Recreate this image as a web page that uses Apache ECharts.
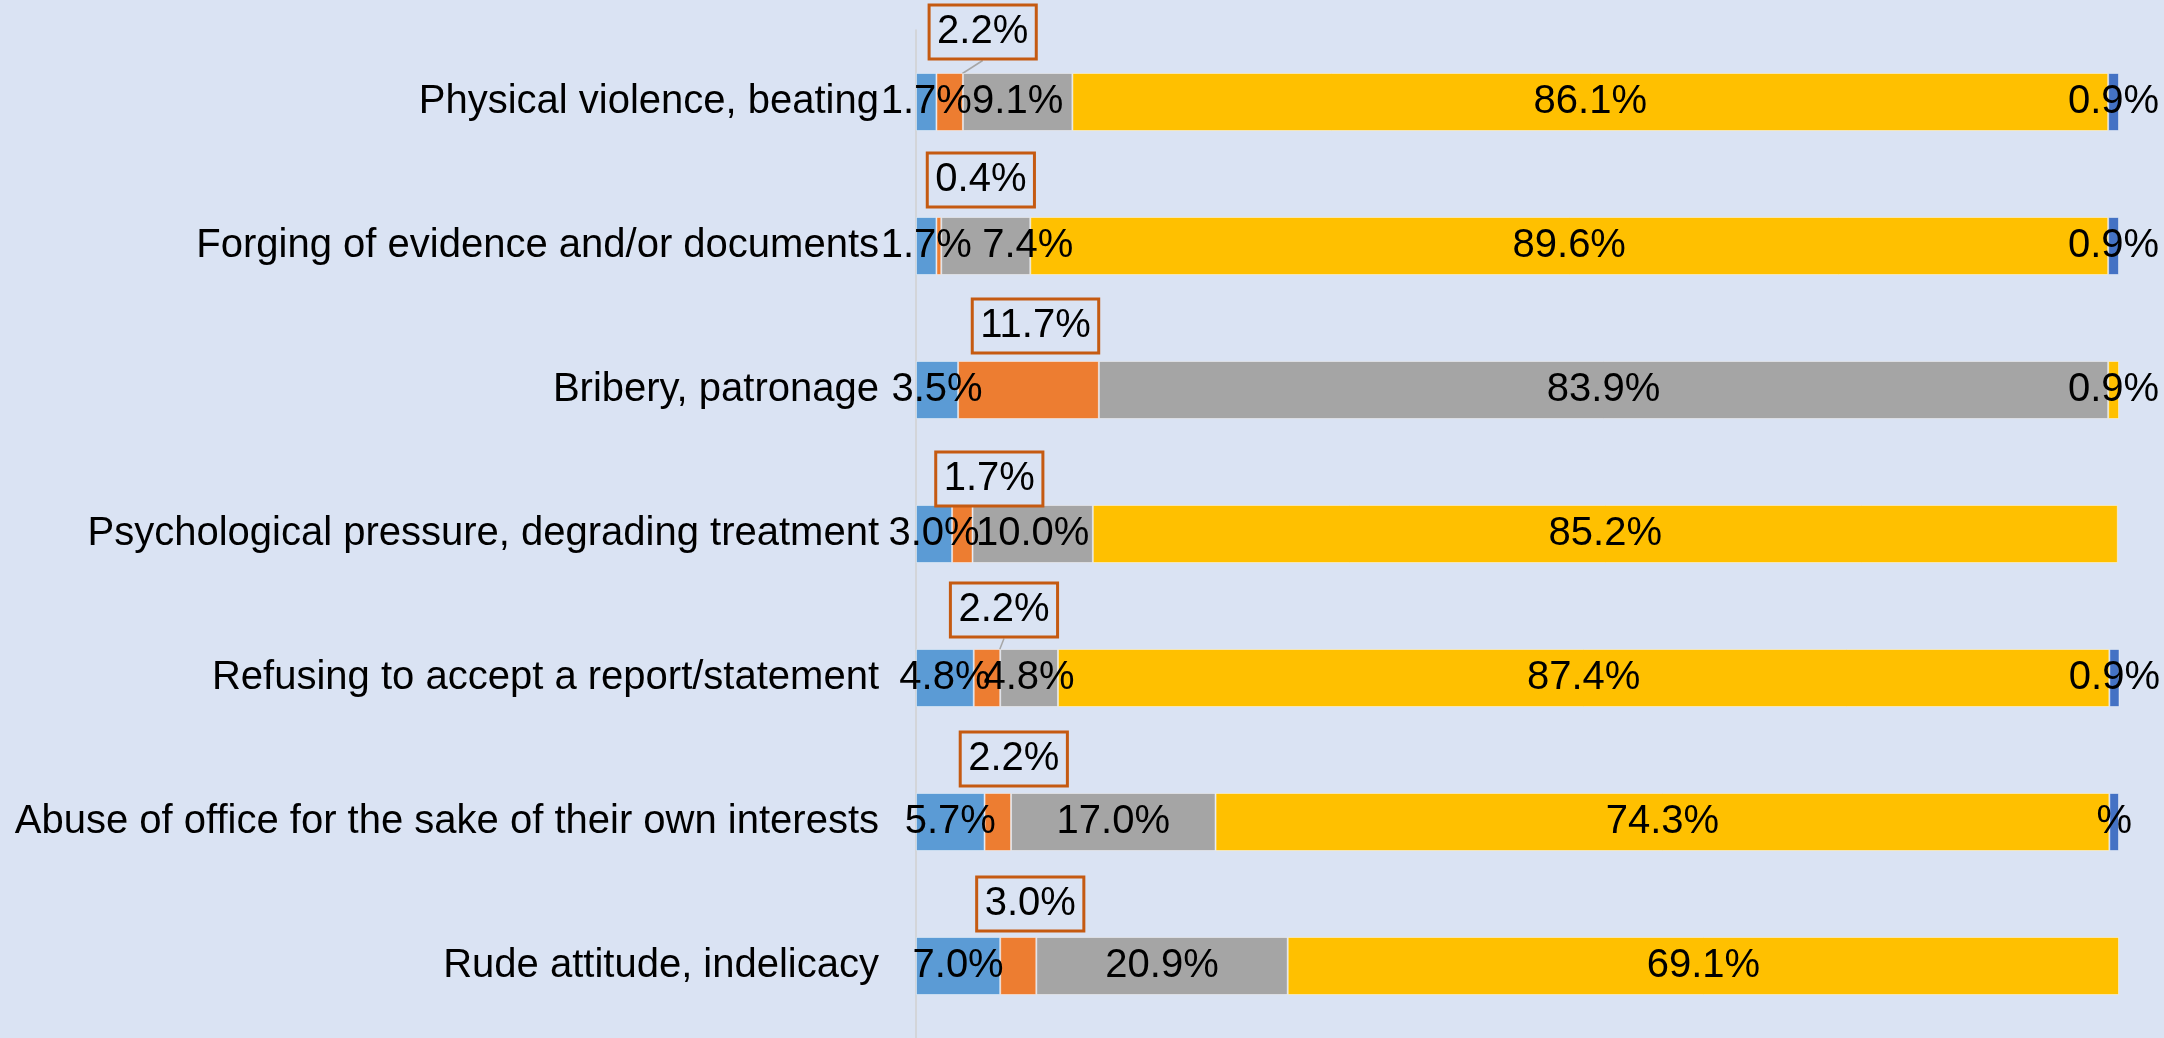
<!DOCTYPE html>
<html>
<head>
<meta charset="utf-8">
<script src="https://cdn.jsdelivr.net/npm/echarts@6/dist/echarts.min.js"></script>
<style>
  html, body { margin: 0; padding: 0; background: #DAE3F3; }
  #chart { width: 2164px; height: 1038px; }
</style>
</head>
<body>
<div id="chart"></div>
<script>
// categories, top to bottom
var categories = [
  'Physical violence, beating',
  'Forging of evidence and/or documents',
  'Bribery, patronage',
  'Psychological pressure, degrading treatment',
  'Refusing to accept a report/statement',
  'Abuse of office for the sake of their own interests',
  'Rude attitude, indelicacy'
];
var blueVals   = [1.7, 1.7, 3.5, 3.0, 4.8, 5.7, 7.0];
var orangeVals = [2.2, 0.4, 11.7, 1.7, 2.2, 2.2, 3.0];
var greyVals   = [9.1, 7.4, 83.9, 10.0, 4.8, 17.0, 20.9];
var yellowVals = [86.1, 89.6, 0.9, 85.2, 87.4, 74.3, 69.1];
var darkVals   = [0.9, 0.9, null, null, 0.9, 0.8, null];
// label text of the last segment as shown (one is cut off in the original)
var darkLabels = ['0.9%', '0.9%', '', '', '0.9%', '%', ''];

// where the boxed orange labels sit, relative to their segment (layout only)
var calloutShift = [[33, -70], [42, -66], [7, -64], [27, -55], [17, -68], [16, -63], [12, -62]];
var calloutWithLine = [0, 4];
// one grey label was nudged right in the original
var greyLabelShift = [0, 42, 0, 0, 0, 0, 0];

var FONT = 'Liberation Sans, Arial, sans-serif';
var FS = 40;

function pct(p) {
  return p.value == null ? '' : p.value.toFixed(1) + '%';
}

function plainSeries(name, vals, color) {
  return {
    name: name,
    type: 'bar',
    stack: 'all',
    barWidth: 58,
    data: vals,
    itemStyle: { color: color, borderColor: 'rgba(255,255,255,0.45)', borderWidth: 1 },
    label: {
      show: true,
      position: 'inside',
      color: '#000',
      fontSize: FS,
      fontFamily: FONT,
      formatter: pct
    }
  };
}

var orangeData = orangeVals.map(function (v, i) {
  return {
    value: v,
    labelLine: { show: calloutWithLine.indexOf(i) >= 0 }
  };
});

var greySeries = plainSeries('s3', greyVals, '#A5A5A5');
greySeries.data = greyVals.map(function (v, i) {
  return { value: v, label: { offset: [greyLabelShift[i], 0] } };
});

var darkSeries = plainSeries('s5', darkVals, '#4472C4');
darkSeries.label.formatter = function (p) { return darkLabels[p.dataIndex]; };

var chart = echarts.init(document.getElementById('chart'));
chart.setOption({
  animation: false,
  backgroundColor: '#DAE3F3',
  grid: { left: 916, right: 45, top: 30, bottom: -2, containLabel: false },
  xAxis: {
    type: 'value',
    min: 0,
    max: 100,
    show: false
  },
  yAxis: {
    type: 'category',
    inverse: true,
    data: categories,
    axisLine: { show: true, lineStyle: { color: '#D0D0D0', width: 1.5 } },
    axisTick: { show: false },
    axisLabel: { fontSize: FS, color: '#000', fontFamily: FONT, margin: 37 }
  },
  series: [
    plainSeries('s1', blueVals, '#5B9BD5'),
    {
      name: 's2',
      type: 'bar',
      stack: 'all',
      barWidth: 58,
      data: orangeData,
      itemStyle: { color: '#ED7D31', borderColor: 'rgba(255,255,255,0.45)', borderWidth: 1 },
      label: {
        show: true,
        position: 'inside',
        color: '#000',
        fontSize: FS,
        fontFamily: FONT,
        lineHeight: 44,
        borderColor: '#C55A11',
        borderWidth: 1.5,
        padding: [6, 8, 4, 8],
        backgroundColor: 'transparent',
        formatter: pct
      },
      labelLine: { show: false, lineStyle: { color: '#A6A6A6', width: 1.5 } },
      labelLayout: function (p) {
        var s = calloutShift[p.dataIndex];
        return { dx: s[0], dy: s[1] };
      }
    },
    greySeries,
    plainSeries('s4', yellowVals, '#FFC000'),
    darkSeries
  ]
});
</script>
</body>
</html>
